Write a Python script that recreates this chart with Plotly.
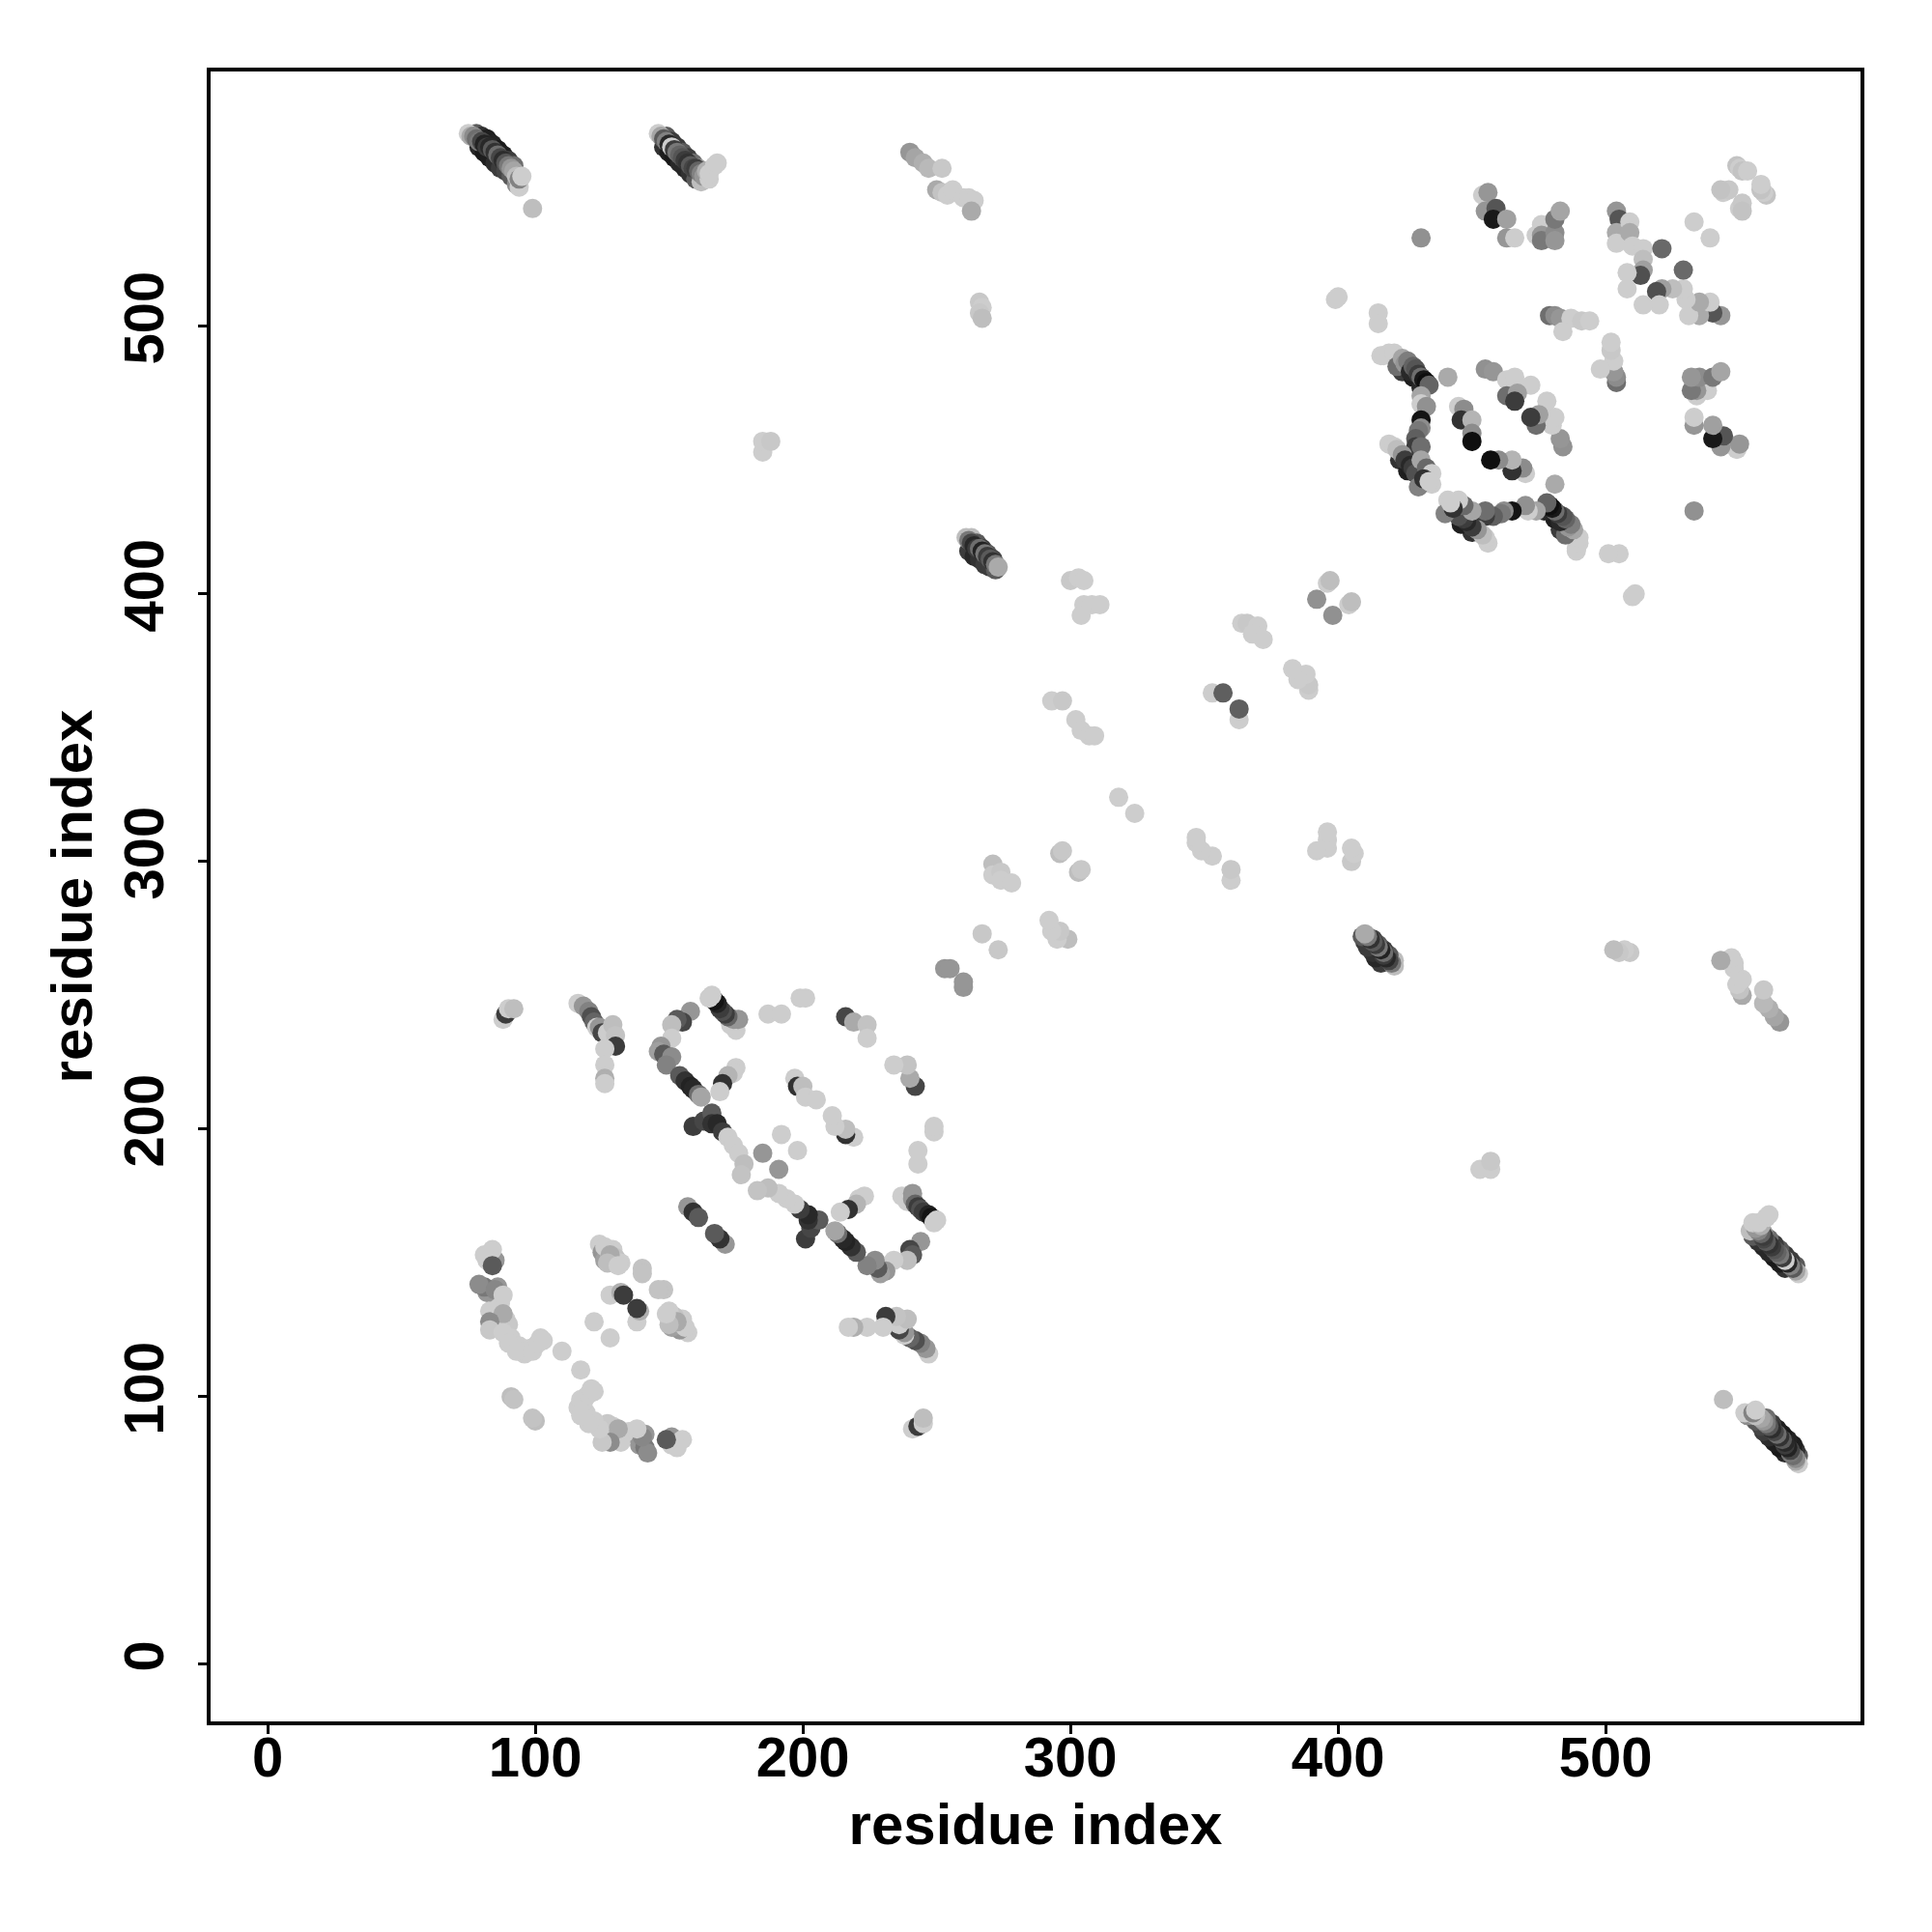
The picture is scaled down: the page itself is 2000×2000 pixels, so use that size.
import plotly.graph_objects as go

# Contact pairs above the diagonal (i < j), grouped in clusters: residue i, residue j, grey level
a_i = [75,76,77,78,79,80,81,82,83,84,85,86,87,88,89,90,91,92,94,93,94,95,99]
a_j = [572,571,571,570,569,569,568,567,567,566,565,564,563,562,561,560,559,558,552,556,555,556,544]
a_g = [205,170,140,110,120,70,35,60,40,90,50,110,70,45,85,120,150,165,205,190,130,205,190]
a2_i = [78,80,82,84,86,88,90,92,79,81,83,85,87,89,91,93]
a2_j = [572,571,570,568,566,564,562,560,567,565,563,561,559,558,556,553]
a2_g = [90,50,30,35,25,30,60,110,40,25,30,45,60,70,90,140]

b_i = [146,147,148,149,150,151,152,153,154,155,156,157,158,159,160,161,162,163,165,164,165,167,168]
b_j = [572,571,570,569,568,567,566,565,564,563,562,561,560,559,559,558,557,556,555,558,557,560,561]
b_g = [205,165,90,130,40,205,60,120,100,85,60,50,90,70,60,100,130,150,205,175,205,205,205]
b2_i = [149,151,153,155,157,159,161,148,150,152,154,156,158,160,162]
b2_j = [571,569,567,565,563,561,559,567,565,563,561,559,557,555,554]
b2_g = [90,60,60,90,60,110,150,50,30,25,40,40,50,90,190]

c_i = [240,242,245,247,252,250,252,254,256,260,262,264,263]
c_j = [565,563,561,559,559,551,550,549,551,548,548,547,543]
c_g = [150,165,175,185,200,170,195,205,205,205,205,205,170]

d_i = [266,267,266,267,185,185,188]
d_j = [509,507,505,503,453,457,457]
d_g = [200,205,200,190,205,205,200]

f_i = [261,262,263,264,265,266,267,268,269,270,271,272,273]
f_j = [421,420,419,418,417,417,416,415,414,413,412,411,410]
f_g = [190,120,70,40,60,110,35,120,60,90,50,120,170]
f2_i = [263,265,267,269,271,262,264,266,268,270,272]
f2_j = [421,419,417,415,413,416,414,413,411,410,409]
f2_g = [190,90,60,90,70,60,40,50,60,60,90]

mid_i = [300,303,305,305,308,311,304,293,297,302,304,307,309,318]
mid_j = [405,406,405,396,396,396,392,360,360,353,349,347,347,324]
mid_g = [200,205,205,205,205,205,205,205,200,205,205,205,205,205]

mid2_i = [271,271,274,274,278,296,297,267,253,255,353,357]
mid2_j = [299,295,296,293,292,303,304,273,260,260,363,363]
mid2_g = [190,205,200,205,205,190,200,200,150,150,205,95]

mid3_i = [364,366,370,368,372,392,396,397,399,400,415,415]
mid3_j = [389,389,388,385,383,398,404,405,510,511,505,501]
mid3_g = [205,200,205,205,205,145,205,190,205,205,205,205]

tr1_i = [431,454,455,456,459,458,463,463,466]
tr1_j = [533,549,543,550,544,540,540,533,533]
tr1_g = [145,205,150,150,85,25,160,150,205]

tr2_i = [476,474,476,476,481,481,481,483]
tr2_j = [538,534,534,532,535,532,540,543]
tr2_g = [205,205,150,120,140,150,120,165]

tr3_i = [504,505,504,504,509,509,510,514,514,514,513,508,508,521,533]
tr3_j = [543,540,535,531,539,535,530,529,525,521,519,520,514,529,539]
tr3_g = [150,85,170,205,205,170,205,205,190,160,80,205,205,105,205]

tr4_i = [549,550,551,553,544,546,543,479,481,483,487,484,491,494]
tr4_j = [560,559,558,558,550,551,551,504,504,503,503,498,502,502]
tr4_g = [195,205,195,205,205,200,195,110,140,150,205,205,200,205]

arc1_i = [424,428,431,416,417,419,421,423,422,424,425,426,427,428,429,430,431,432,433,434,441]
arc1_j = [483,481,477,489,489,490,490,488,485,488,486,487,483,485,484,482,481,480,479,478,481]
arc1_g = [60,30,40,205,205,205,205,205,110,165,150,125,40,100,85,60,110,25,15,100,170]

col_i = [431,431,433,431,431,430,429,429,431]
col_j = [474,471,470,465,462,461,458,455,455]
col_g = [165,205,145,20,140,120,95,60,110]

arc2_i = [423,426,419,421,422,424,425,427,428,429,431,433,435,435,430,432,434]
arc2_j = [450,446,456,455,454,452,450,448,447,445,450,447,445,441,440,443,442]
arc2_g = [50,30,205,205,190,150,60,40,60,80,165,105,205,205,130,50,205]

inner_i = [455,458,463,466,472,463,467,466,445,447,446,450,450,450]
inner_j = [484,483,480,481,478,474,475,472,470,469,465,465,460,457]
inner_g = [145,150,205,205,205,110,160,60,205,140,50,180,140,15]

left_i = [84,81,84,79,85,88,83,88,83,83,88,90,93,99,101,103,110,91,92]
left_j = [155,153,149,142,140,138,132,131,128,125,124,120,117,117,120,121,117,100,99]
left_g = [205,205,90,140,135,205,205,170,140,200,205,205,205,205,205,205,205,190,195]
left2_i = [82,83,85,86,86,87,89,90,91,94,95,96,98,100,102,82,81,85]
left2_j = [151,153,151,141,137,135,129,127,122,119,118,116,118,119,122,139,141,127]
left2_g = [205,200,150,150,130,205,205,200,205,205,205,205,205,205,205,150,120,205]

blob_i = [124,125,129,126,130,132,140,140,128,132,133,122,126,128,127,131]
blob_j = [157,154,155,151,152,150,148,146,138,139,138,128,156,153,150,149]
blob_g = [205,150,205,160,195,205,195,195,205,175,60,205,205,170,190,205]

g1_i = [88,89,90,92]
g1_j = [241,243,245,245]
g1_g = [205,60,205,190]

g2_i = [116,118,120,121,122,123,124,125,127,129,130,130,126,126,126,126]
g2_j = [247,246,244,242,240,238,238,236,236,239,235,231,230,224,219,217]
g2_g = [205,150,130,80,100,205,150,70,205,190,195,60,205,205,175,205]

cup_i = [175,173,176,174,172,171,170,169,168,167,166,165,158,155,153,151,151]
cup_j = [237,239,241,241,242,243,244,245,247,248,250,249,244,240,241,239,234]
cup_g = [205,205,150,150,100,60,80,60,35,20,205,205,150,70,90,190,205]

arm_i = [147,146,148,151,149,154,156,158,159,161,162,175,174,172,170,169]
arm_j = [231,229,228,227,224,220,218,216,215,213,212,223,221,220,217,214]
arm_g = [150,160,90,140,130,90,50,35,40,110,165,205,205,180,50,205]

tail_i = [159,163,166,166,168,170,172,174,176,178,177,185,192]
tail_j = [201,203,206,202,202,199,197,194,191,187,183,191,198]
tail_g = [60,70,90,50,40,60,205,205,205,190,195,150,205]

core_i = [197,198,200,201,205,187,192,199,201,216,219,224,224,157,159,161]
core_j = [219,216,216,212,211,243,243,249,249,242,240,239,234,171,169,167]
core_g = [205,50,190,205,205,205,205,205,205,70,170,195,205,150,50,90]

# under-layers first, so the main chains overlap them in sequence
clusters = [
    (a2_i, a2_j, a2_g), (a_i, a_j, a_g), (b2_i, b2_j, b2_g), (b_i, b_j, b_g),
    (c_i, c_j, c_g), (d_i, d_j, d_g), (f2_i, f2_j, f2_g), (f_i, f_j, f_g),
    (mid_i, mid_j, mid_g), (mid2_i, mid2_j, mid2_g), (mid3_i, mid3_j, mid3_g),
    (tr1_i, tr1_j, tr1_g), (tr2_i, tr2_j, tr2_g), (tr3_i, tr3_j, tr3_g), (tr4_i, tr4_j, tr4_g),
    (arc1_i, arc1_j, arc1_g), (col_i, col_j, col_g), (arc2_i, arc2_j, arc2_g), (inner_i, inner_j, inner_g),
    (left2_i, left2_j, left2_g), (left_i, left_j, left_g), (blob_i, blob_j, blob_g),
    (g1_i, g1_j, g1_g), (g2_i, g2_j, g2_g),
    (cup_i, cup_j, cup_g), (arm_i, arm_j, arm_g), (tail_i, tail_j, tail_g), (core_i, core_j, core_g),
]
res_i, res_j, grey = [], [], []
for ci, cj, cg in clusters:
    assert len(ci) == len(cj) == len(cg), (ci, len(ci), len(cj), len(cg))
    res_i += ci
    res_j += cj
    grey += cg

tick_vals = [0, 100, 200, 300, 400, 500]
axis_label = "residue index"

# a contact map is symmetric: each pair is drawn at (i, j) and at (j, i)
colors = [f"rgb({g},{g},{g})" for g in grey] * 2
fig = go.Figure(go.Scatter(
    x=res_i + res_j, y=res_j + res_i, mode="markers",
    marker=dict(size=20, color=colors, line=dict(width=0)),
    hoverinfo="x+y",
))
TITLE_FONT = dict(family="Liberation Sans, Arial, sans-serif", size=60, color="black", weight=700)
TICK_FONT = dict(family="Liberation Sans, Arial, sans-serif", size=58, color="black", weight=700)
axis = dict(
    tickmode="array", tickvals=tick_vals, ticks="outside", ticklen=9, tickwidth=3,
    tickcolor="black", showgrid=False, zeroline=False, showline=True, linecolor="black",
    linewidth=3.5, mirror=True, tickfont=TICK_FONT, automargin=False,
)
fig.update_xaxes(range=[-21.3, 595.2], ticklabelstandoff=-25,
                 title=dict(text=axis_label, font=TITLE_FONT, standoff=18), **axis)
fig.update_yaxes(range=[-21.3, 595.2], ticklabelstandoff=13,
                 title=dict(text=axis_label, font=TITLE_FONT, standoff=2), tickangle=-90, **axis)
# the page adds an 8 px body margin, so the figure is 8 px smaller and margins are offset
fig.update_layout(width=1992, height=1992, plot_bgcolor="white", paper_bgcolor="white",
                  showlegend=False, margin=dict(l=210, r=74, t=66, b=218))
fig.write_html("out.html")
